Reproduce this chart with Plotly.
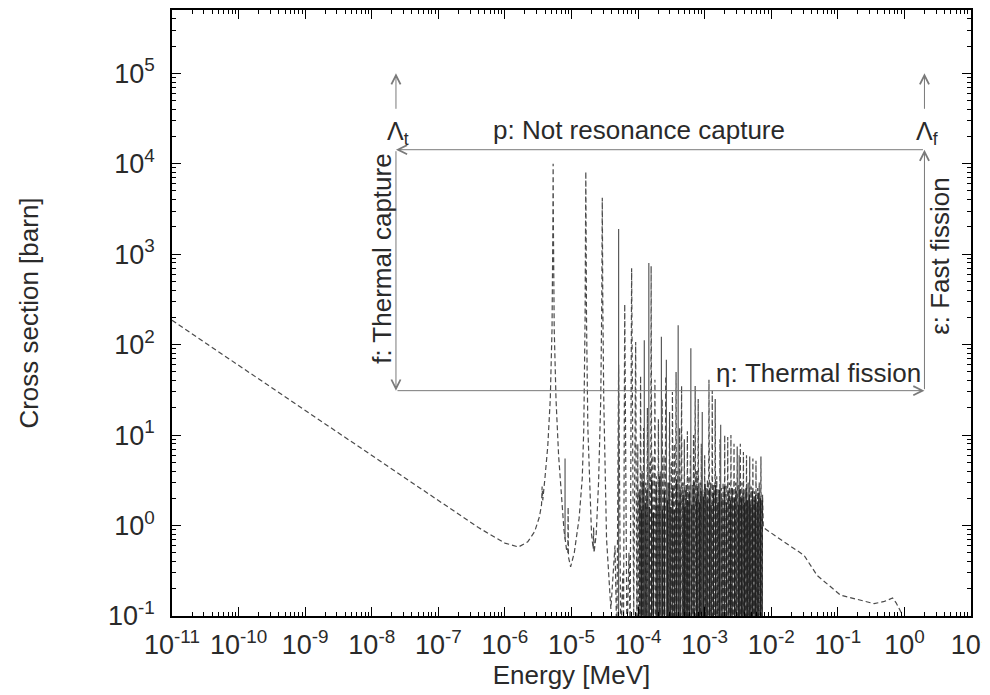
import math

import plotly.graph_objects as go

# smooth 1/v region and resolved resonances (dashed curve)
low_energy = [
    1e-11, 1e-10, 1e-9, 1e-8, 1e-7, 4e-7, 1e-6, 1.6e-6, 2.2e-6, 2.8e-6,
    3.3e-6, 3.55e-6, 3.62e-6, 3.7e-6, 4.0e-6, 4.4e-6, 4.8e-6, 5.1e-6, 5.25e-6, 5.3e-6,
    5.35e-6, 5.5e-6, 5.85e-6, 6.4e-6, 7.0e-6, 7.7e-6, 8.4e-6, 8.8e-6, 8.9e-6, 9.0e-6,
    9.7e-6, 1.1e-5, 1.3e-5, 1.45e-5, 1.53e-5, 1.6e-5, 1.64e-5, 1.68e-5, 1.76e-5, 1.87e-5,
    2.0e-5, 2.12e-5, 2.15e-5, 2.18e-5, 2.35e-5, 2.55e-5, 2.75e-5, 2.85e-5, 2.9e-5, 2.95e-5,
    3.05e-5, 3.36e-5, 3.9e-5,
]
low_sigma = [
    186, 59, 18.7, 5.9, 1.87, 0.95, 0.64, 0.58, 0.66, 0.86,
    1.25, 1.7, 2.7, 1.9, 3.4, 7.5, 25, 150, 2000, 10000,
    2000, 150, 25, 6, 2.2, 0.9, 0.55, 0.5, 1.6, 0.45,
    0.35, 0.5, 1.2, 3.3, 12, 200, 8200, 200, 12, 2.5,
    0.8, 0.55, 0.95, 0.5, 0.8, 3, 25, 300, 4200, 300,
    25, 0.71, 0.12,
]

# unresolved forest: alternating peak / dip values
forest_energy = [
    4.5e-5, 4.8e-5, 5.1e-5, 5.5e-5, 5.9e-5, 6.05e-5, 6.3e-5, 6.8e-5, 7.3e-5, 7.6e-5,
    8.0e-5, 8.6e-5, 9.2e-5, 9.6e-5, 9.9e-5, 1.01e-4, 1.04e-4, 1.06e-4, 1.09e-4, 1.12e-4,
    1.15e-4, 1.18e-4, 1.21e-4, 1.25e-4, 1.3e-4, 1.34e-4, 1.38e-4, 1.42e-4, 1.5e-4, 1.54e-4,
    1.57e-4, 1.62e-4, 1.67e-4, 1.72e-4, 1.79e-4, 1.84e-4, 1.9e-4, 1.96e-4, 2.02e-4, 2.08e-4,
    2.15e-4, 2.2e-4, 2.3e-4, 2.38e-4, 2.45e-4, 2.52e-4, 2.6e-4, 2.7e-4, 2.8e-4, 2.88e-4,
    2.97e-4, 3.05e-4, 3.15e-4, 3.22e-4, 3.28e-4, 3.4e-4, 3.5e-4, 3.6e-4, 3.72e-4, 3.82e-4,
    3.95e-4, 4.05e-4, 4.2e-4, 4.35e-4, 4.5e-4, 4.6e-4,
    4.7e-4, 4.82e-4, 4.95e-4, 5.07e-4, 5.2e-4, 5.35e-4, 5.5e-4, 5.65e-4, 5.8e-4, 5.95e-4,
    6.1e-4, 6.3e-4, 6.5e-4, 6.65e-4, 6.8e-4, 7.0e-4, 7.2e-4, 7.4e-4, 7.6e-4, 7.8e-4,
    8.0e-4, 8.25e-4, 8.5e-4, 8.7e-4, 8.9e-4, 9.15e-4, 9.4e-4, 9.7e-4, 1.0e-3, 1.025e-3,
    1.05e-3, 1.075e-3, 1.1e-3, 1.13e-3, 1.16e-3, 1.2e-3, 1.23e-3, 1.27e-3, 1.3e-3, 1.33e-3,
    1.37e-3, 1.4e-3, 1.44e-3, 1.48e-3, 1.52e-3, 1.56e-3, 1.6e-3, 1.65e-3, 1.7e-3, 1.75e-3,
    1.79e-3, 1.84e-3, 1.89e-3, 1.95e-3, 2.0e-3, 2.05e-3, 2.1e-3, 2.16e-3, 2.22e-3, 2.28e-3,
    2.35e-3, 2.42e-3, 2.48e-3, 2.55e-3, 2.62e-3, 2.69e-3, 2.76e-3, 2.84e-3, 2.92e-3, 3.0e-3,
    3.08e-3, 3.16e-3, 3.25e-3, 3.34e-3, 3.43e-3, 3.52e-3, 3.62e-3, 3.72e-3, 3.82e-3, 3.92e-3,
    4.03e-3, 4.14e-3, 4.25e-3, 4.37e-3, 4.5e-3, 4.62e-3, 4.75e-3, 4.87e-3, 5.0e-3, 5.15e-3,
    5.3e-3, 5.45e-3, 5.6e-3, 5.75e-3, 5.9e-3, 6.07e-3, 6.25e-3, 6.42e-3, 6.6e-3, 6.8e-3,
    7.0e-3, 7.2e-3, 7.4e-3,
]
forest_sigma = [
    0.6, 0.05, 60, 0.06, 0.3, 0.08, 280, 0.05, 0.5, 0.07,
    700, 0.1, 107, 0.04, 8, 0.05, 2.5, 0.03, 45, 0.05,
    4, 0.04, 12, 0.05, 3, 0.04, 20, 0.06, 5, 0.05,
    740, 0.04, 6, 0.05, 41, 0.04, 3.5, 0.05, 15, 0.03,
    4, 0.05, 25, 0.04, 6, 0.05, 45, 0.04, 3, 0.05,
    18, 0.04, 5, 0.05, 30, 0.04, 8, 0.05, 50, 0.04,
    4, 0.05, 12, 0.04, 35, 0.05,
    3, 0.04, 9, 0.05, 2.5, 0.03, 11, 0.05, 3.5, 0.04,
    6, 0.05, 2.8, 0.03, 10, 0.05, 35, 0.04, 4, 0.05,
    25, 0.03, 3, 0.05, 8, 0.04, 2.5, 0.05, 6, 0.03,
    2.6, 0.05, 3.2, 0.04, 41, 0.05, 3, 0.03, 31, 0.05,
    2.8, 0.04, 25, 0.05, 3.5, 0.03, 2.5, 0.05, 9, 0.04,
    2.6, 0.05, 3, 0.03, 10, 0.05, 2.8, 0.04, 9.5, 0.05,
    3, 0.03, 10, 0.05, 2.6, 0.04, 8, 0.05, 3, 0.03,
    7.5, 0.05, 2.8, 0.04, 8, 0.05, 3, 0.03, 6.5, 0.05,
    2.5, 0.04, 6, 0.05, 3, 0.03, 5.8, 0.05, 2.7, 0.04,
    5.5, 0.05, 2.4, 0.03, 5.2, 0.05, 2.6, 0.04, 3, 0.05,
    5.8, 0.04, 2.2,
]

# smooth fast region
tail_energy = [7.6e-3, 1.56e-2, 3.1e-2, 4.9e-2, 0.11, 0.35, 0.5, 0.665, 0.75, 0.885, 1.0]
tail_sigma = [0.95, 0.66, 0.47, 0.28, 0.17, 0.137, 0.145, 0.158, 0.14, 0.111, 0.07]

# solid resonance lines (isolated, taller ones)
solid_energy = [8.0e-6, 5.1e-5, 1.24e-4, 1.45e-4, 2.24e-4, 2.66e-4, 4.0e-4, 6.2e-4, 9.2e-4, 1.74e-3, 3.3e-3]
solid_peak = [5.5, 1900, 112, 800, 122, 68, 164, 91, 18, 13, 6]
solid_base = [0.7, 0.05, 0.05, 0.05, 0.05, 0.05, 0.05, 0.05, 0.05, 0.05, 0.05]

# solid resonance lines (dense low ones inside the forest)
dense_energy = [
    1.07e-4, 1.13e-4, 1.19e-4, 1.28e-4, 1.36e-4, 1.47e-4, 1.6e-4, 1.7e-4, 1.87e-4, 1.99e-4,
    2.12e-4, 2.33e-4, 2.48e-4, 2.75e-4, 2.92e-4, 3.1e-4, 3.32e-4, 3.55e-4, 3.78e-4, 4.1e-4,
    4.28e-4, 4.76e-4, 5.0e-4, 5.27e-4, 5.57e-4, 5.87e-4, 6.4e-4, 6.9e-4, 7.5e-4, 7.9e-4,
    8.4e-4, 8.8e-4, 9.55e-4, 1.015e-3, 1.09e-3, 1.18e-3, 1.25e-3, 1.35e-3, 1.46e-3, 1.58e-3,
    1.67e-3, 1.82e-3, 1.97e-3, 2.13e-3, 2.31e-3, 2.45e-3, 2.58e-3, 2.8e-3, 2.96e-3, 3.2e-3,
    3.38e-3, 3.57e-3, 3.77e-3, 3.98e-3, 4.2e-3, 4.43e-3, 4.68e-3, 4.93e-3, 5.22e-3, 5.52e-3,
    5.82e-3, 6.16e-3, 6.5e-3, 6.9e-3, 7.3e-3,
]
dense_peak = [
    2.2, 1.5, 3, 1.8, 2.5, 1.6, 3.2, 1.4, 2.8, 1.7,
    3.5, 1.5, 2.4, 1.9, 3, 1.6, 2.6, 1.5, 3.2, 1.8,
    2.5, 2.2, 1.6, 2.8, 1.9, 2.4, 1.7, 3, 2, 2.6,
    1.8, 2.4, 2.1, 2.9, 1.9, 2.5, 1.7, 2.3, 2.8, 1.8,
    2.5, 2, 2.7, 1.8, 2.4, 1.9, 2.6, 2, 2.4, 1.7,
    2.5, 2, 2.3, 1.8, 2.6, 1.9, 2.2, 1.7, 2.4, 1.9,
    2.2, 1.8, 2.3, 2, 1.9,
]
DENSE_BASE = 0.05

x_ticks = [10.0 ** k for k in range(-11, 2)]
x_ticktext = ["10<sup>%d</sup>" % k for k in range(-11, 2)]
y_ticks = [10.0 ** k for k in range(-1, 6)]
y_ticktext = ["10<sup>%d</sup>" % k for k in range(-1, 6)]

# four-factor box
E_THERMAL = 2.31e-8
E_FAST = 2.0
SIG_TOP = 1.43e4
SIG_BOTTOM = 31
SIG_ARROW_LOW = 3.9e4
SIG_ARROW_HIGH = 1.0e5

FONT = "Liberation Sans, Arial, sans-serif"
TEXT = "#2a2a2a"
BOX = "#7a7a7a"

fig = go.Figure()

fig.add_trace(
    go.Scatter(
        x=low_energy + forest_energy + tail_energy,
        y=low_sigma + forest_sigma + tail_sigma,
        mode="lines",
        line=dict(color="#4a4a4a", width=1.2, dash="5px,3px"),
        showlegend=False,
    )
)

sx, sy = [], []
for e, lo, hi in zip(solid_energy, solid_base, solid_peak):
    sx += [e, e, None]
    sy += [lo, hi, None]
fig.add_trace(
    go.Scatter(
        x=sx, y=sy, mode="lines",
        line=dict(color="#5a5a5a", width=1.2),
        showlegend=False,
    )
)

dx, dy = [], []
for e, hi in zip(dense_energy, dense_peak):
    dx += [e, e, None]
    dy += [DENSE_BASE, hi, None]
fig.add_trace(
    go.Scatter(
        x=dx, y=dy, mode="lines",
        line=dict(color="#202020", width=1.3),
        showlegend=False,
    )
)

L = math.log10


def arrow(x0, y0, x1, y1):
    # tail (x0, y0) -> head (x1, y1)
    fig.add_annotation(
        x=L(x1), y=L(y1), ax=L(x0), ay=L(y0),
        xref="x", yref="y", axref="x", ayref="y",
        text="", showarrow=True,
        arrowhead=5, arrowsize=1.8, arrowwidth=1, arrowcolor=BOX,
    )


arrow(E_FAST, SIG_TOP, E_THERMAL, SIG_TOP)
arrow(E_THERMAL, SIG_TOP, E_THERMAL, SIG_BOTTOM)
arrow(E_THERMAL, SIG_BOTTOM, E_FAST, SIG_BOTTOM)
arrow(E_FAST, SIG_BOTTOM, E_FAST, SIG_TOP)
arrow(E_THERMAL, SIG_ARROW_LOW, E_THERMAL, SIG_ARROW_HIGH)
arrow(E_FAST, SIG_ARROW_LOW, E_FAST, SIG_ARROW_HIGH)


def label(text, x, y, size=26, angle=0, xanchor="center"):
    fig.add_annotation(
        x=L(x), y=L(y), xref="x", yref="y", text=text, showarrow=False,
        textangle=angle, xanchor=xanchor, yanchor="middle",
        font=dict(family=FONT, size=size, color=TEXT),
    )


label("Λ<sub>t</sub>", 2.5e-8, 2.2e4, size=25)
label("Λ<sub>f</sub>", 2.2, 2.2e4, size=25)
label("p: Not resonance capture", 1.03e-4, 2.37e4)
label("f: Thermal capture", 1.45e-8, 900, angle=-90)
label("ε: Fast fission", 3.5, 950, angle=-90)
label("η: Thermal fission", 1.9, 48, xanchor="right")

axis_common = dict(
    type="log",
    showline=True, linecolor="black", linewidth=1.5, mirror="ticks",
    ticks="inside", ticklen=9, tickwidth=1, tickcolor="black",
    minor=dict(ticks="inside", ticklen=4, tickwidth=1, tickcolor="black", dtick="D1", showgrid=False),
    showgrid=False, zeroline=False,
    tickfont=dict(family=FONT, size=27, color=TEXT),
    tickmode="array",
    ticklabeloverflow="allow",
    automargin=False,
)

fig.update_xaxes(
    **axis_common,
    range=[-11, 1],
    tickvals=x_ticks, ticktext=x_ticktext,
    ticklabelstandoff=4,
    title=dict(text="Energy [MeV]", font=dict(family=FONT, size=26, color=TEXT), standoff=6),
)
fig.update_yaxes(
    **axis_common,
    range=[-1, 5.7],
    tickvals=y_ticks, ticktext=y_ticktext,
    ticklabelstandoff=10,
    title=dict(text="Cross section [barn]", font=dict(family=FONT, size=26, color=TEXT), standoff=62),
)

# page body has an 8px margin, so the figure is shrunk and shifted to match
fig.update_layout(
    width=982, height=687,
    margin=dict(l=164, r=19, t=2, b=79),
    plot_bgcolor="white", paper_bgcolor="white",
    showlegend=False,
)

fig.write_html("out.html")
